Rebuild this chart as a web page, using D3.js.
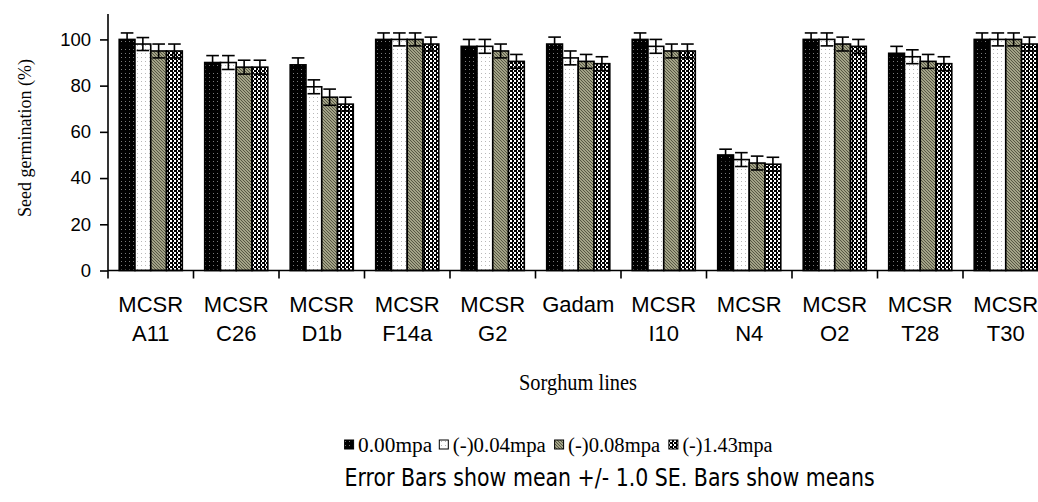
<!DOCTYPE html>
<html><head><meta charset="utf-8">
<script src="https://cdn.jsdelivr.net/npm/d3@7"></script>
<style>
html,body{margin:0;padding:0;background:#fff;}
svg{display:block;}
</style>
</head><body>
<svg id="chart" width="1038" height="502"></svg>
<script>
const categories = ["MCSR A11","MCSR C26","MCSR D1b","MCSR F14a","MCSR G2","Gadam","MCSR I10","MCSR N4","MCSR O2","MCSR T28","MCSR T30"];
const series = ["0.00mpa","(-)0.04mpa","(-)0.08mpa","(-)1.43mpa"];
const s000 = [100, 90, 89, 100, 97, 98, 100, 50, 100, 94, 100];
const s004 = [98, 90, 79.5, 100, 97, 92, 97, 48, 100, 92.5, 100];
const s008 = [95, 88, 75, 100, 95, 90.5, 95, 46.5, 98, 90.5, 100];
const s143 = [95, 88, 72, 98, 90.5, 89.5, 95, 46, 97, 89.5, 98];
const se000 = [2.8, 3, 3, 2.8, 3, 3, 2.8, 2.5, 2.8, 3, 2.8];
const se004 = [2.8, 3, 3, 2.8, 3, 3, 3, 3, 2.8, 3, 2.8];
const se008 = [3, 3, 3.5, 2.8, 3, 3, 3, 3, 3, 3, 2.8];
const se143 = [3, 3, 3, 3, 3, 3, 3, 3, 3, 3, 3];
const yTicks = [0, 20, 40, 60, 80, 100];

const values = [s000, s004, s008, s143];
const errors = [se000, se004, se008, se143];

const svg = d3.select("#chart");
const defs = svg.append("defs");

// patterns
const pBlack = defs.append("pattern").attr("id","pat0").attr("patternUnits","userSpaceOnUse").attr("width",4).attr("height",4);
pBlack.append("rect").attr("width",4).attr("height",4).attr("fill","#000");
pBlack.append("rect").attr("x",1).attr("y",1).attr("width",1).attr("height",1).attr("fill","#7a7a7a");

const pWhite = defs.append("pattern").attr("id","pat1").attr("patternUnits","userSpaceOnUse").attr("width",4).attr("height",4);
pWhite.append("rect").attr("width",4).attr("height",4).attr("fill","#fff");
pWhite.append("rect").attr("x",1).attr("y",1).attr("width",1).attr("height",1).attr("fill","#b8b8b8");

const pGray = defs.append("pattern").attr("id","pat2").attr("patternUnits","userSpaceOnUse").attr("width",3).attr("height",3);
pGray.append("rect").attr("width",3).attr("height",3).attr("fill","#a3a387");
pGray.append("path").attr("d","M0,0 L3,3 M-1,2 L1,4 M2,-1 L4,1").attr("stroke","#4e4e3c").attr("stroke-width",0.9);

const pCheck = defs.append("pattern").attr("id","pat3").attr("patternUnits","userSpaceOnUse").attr("width",4).attr("height",4);
pCheck.append("rect").attr("width",4).attr("height",4).attr("fill","#fff");
pCheck.append("rect").attr("x",0).attr("y",0).attr("width",2).attr("height",2).attr("fill","#000");
pCheck.append("rect").attr("x",2).attr("y",2).attr("width",2).attr("height",2).attr("fill","#000");
pCheck.append("rect").attr("x",0).attr("y",2).attr("width",1).attr("height",2).attr("fill","#000");

const fills = ["url(#pat0)","url(#pat1)","url(#pat2)","url(#pat3)"];

const mLeft = 108, mRight = 1048.5, mTop = 14, mBottom = 270.5;
const x0 = d3.scaleBand().domain(categories).range([mLeft, mRight]).padding(0);
const x1 = d3.scaleBand().domain(series).range([0, x0.bandwidth()]).paddingInner(0).paddingOuter(0.71);
const y = d3.scaleLinear().domain([0, 111]).range([mBottom, mTop]);

// bars
const g = svg.append("g");
categories.forEach((c, ci) => {
  series.forEach((s, si) => {
    const v = values[si][ci];
    g.append("rect")
      .attr("x", x0(c) + x1(s))
      .attr("y", y(v))
      .attr("width", x1.bandwidth())
      .attr("height", y(0) - y(v))
      .attr("fill", fills[si])
      .attr("stroke", "#000")
      .attr("stroke-width", 1.6);
  });
});
// error bars
const eg = svg.append("g").attr("stroke","#000").attr("stroke-width",1.6);
categories.forEach((c, ci) => {
  series.forEach((s, si) => {
    const v = values[si][ci], e = errors[si][ci];
    const cx = x0(c) + x1(s) + x1.bandwidth()/2;
    const hw = x1.bandwidth()*0.4;
    eg.append("line").attr("x1",cx).attr("x2",cx).attr("y1",y(v+e)).attr("y2",y(v-e));
    eg.append("line").attr("x1",cx-hw).attr("x2",cx+hw).attr("y1",y(v+e)).attr("y2",y(v+e));
    eg.append("line").attr("x1",cx-hw).attr("x2",cx+hw).attr("y1",y(v-e)).attr("y2",y(v-e));
  });
});

// y axis
const yAxis = d3.axisLeft(y).tickValues(yTicks).tickSize(8).tickPadding(9);
const yg = svg.append("g").attr("transform",`translate(${mLeft},0)`).call(yAxis);
yg.select(".domain").attr("d",`M0,${mTop}V${mBottom}`).attr("stroke","#000").attr("stroke-width",1.6);
yg.selectAll(".tick line").attr("stroke","#000").attr("stroke-width",1.6);
yg.selectAll(".tick text").attr("font-family","'Liberation Sans', Arial, sans-serif").attr("font-size",18.5).attr("fill","#000");

// x axis
const xAxis = d3.axisBottom(x0).tickSize(0).tickFormat("");
const xg = svg.append("g").attr("transform",`translate(0,${mBottom})`).call(xAxis);
xg.select(".domain").attr("d",`M${mLeft},0H${mRight}`).attr("stroke","#000").attr("stroke-width",1.6);
xg.selectAll(".tick").remove();
const edges = categories.map(c => x0(c)).concat([mRight]);
xg.selectAll(".edge").data(edges).enter().append("line")
  .attr("x1", d => d).attr("x2", d => d).attr("y1", 0).attr("y2", 8)
  .attr("stroke","#000").attr("stroke-width",1.6);
categories.forEach(c => {
  const parts = c.split(" ");
  const t = svg.append("text")
    .attr("x", x0(c) + x0.bandwidth()/2)
    .attr("text-anchor","middle")
    .attr("font-family","'Liberation Sans', Arial, sans-serif")
    .attr("font-size",22).attr("fill","#000");
  parts.forEach((p, i) => {
    t.append("tspan").attr("x", x0(c) + x0.bandwidth()/2).attr("y", 312 + i*28.5).text(p);
  });
});

// axis titles
svg.append("text")
  .attr("transform","translate(31,138) rotate(-90)")
  .attr("text-anchor","middle")
  .attr("font-family","'Liberation Serif', serif")
  .attr("font-size",19)
  .attr("textLength",158).attr("lengthAdjust","spacingAndGlyphs")
  .text("Seed germination (%)");

svg.append("text")
  .attr("x", 578).attr("y", 390)
  .attr("text-anchor","middle")
  .attr("font-family","'Liberation Serif', serif")
  .attr("font-size",23)
  .attr("textLength",118).attr("lengthAdjust","spacingAndGlyphs")
  .text("Sorghum lines");

// legend
const legendX = [344.6, 439.3, 554.6, 668.9];
const legendW = [74, 93, 92, 90];
const lg = svg.append("g");
series.forEach((s, i) => {
  lg.append("rect").attr("x", legendX[i]).attr("y", 440).attr("width", 9).attr("height", 9)
    .attr("fill", fills[i]).attr("stroke","#000").attr("stroke-width",1);
  lg.append("text").attr("x", legendX[i] + 13.5).attr("y", 452)
    .attr("font-family","'Liberation Serif', serif").attr("font-size",20)
    .attr("textLength", legendW[i]).attr("lengthAdjust","spacingAndGlyphs")
    .text(s);
});

svg.append("text")
  .attr("x", 344.6).attr("y", 486)
  .attr("font-family","'DejaVu Sans Condensed','DejaVu Sans', sans-serif")
  .attr("font-size",25)
  .attr("textLength", 530).attr("lengthAdjust","spacingAndGlyphs")
  .text("Error Bars show mean +/- 1.0 SE. Bars show means");
</script>
</body></html>
